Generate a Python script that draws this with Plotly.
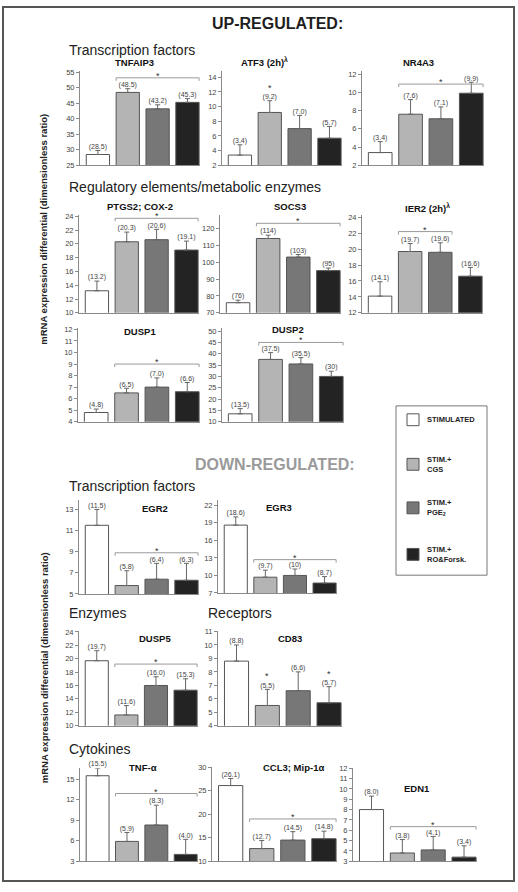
import plotly.graph_objects as go

W, H = 518, 892
FONT = "Liberation Sans, Arial, sans-serif"

CONDITIONS = ["STIMULATED", "STIM.+<br>CGS", "STIM.+<br>PGE<sub>2</sub>", "STIM.+<br>RO&Forsk."]
BAR_COLORS = ["#ffffff", "#b4b4b4", "#777777", "#232323"]
BAR_POS = [0, 1, 2, 3]

# ---- data: mean values, upper error, printed labels ----
TNFAIP3 = [28.5, 48.5, 43.2, 45.3]
TNFAIP3_ERR = [1.3, 1.2, 1.3, 1.2]
TNFAIP3_LBL = ["(28.5)", "(48.5)", "(43.2)", "(45.3)"]

ATF3 = [3.4, 9.2, 7.0, 5.7]
ATF3_ERR = [1.4, 1.6, 1.8, 1.6]
ATF3_LBL = ["(3.4)", "(9.2)", "(7.0)", "(5.7)"]

NR4A3 = [3.4, 7.6, 7.1, 9.9]
NR4A3_ERR = [1.2, 1.6, 1.3, 1.2]
NR4A3_LBL = ["(3.4)", "(7.6)", "(7.1)", "(9.9)"]

PTGS2 = [13.2, 20.3, 20.6, 19.1]
PTGS2_ERR = [1.4, 1.4, 1.5, 1.3]
PTGS2_LBL = ["(13.2)", "(20.3)", "(20.6)", "(19.1)"]

SOCS3 = [76, 114, 103, 95]
SOCS3_ERR = [1.5, 2.0, 1.5, 1.5]
SOCS3_LBL = ["(76)", "(114)", "(103)", "(95)"]

IER2 = [14.1, 19.7, 19.6, 16.6]
IER2_ERR = [1.8, 1.0, 1.2, 1.1]
IER2_LBL = ["(14.1)", "(19.7)", "(19.6)", "(16.6)"]

DUSP1 = [4.8, 6.5, 7.0, 6.6]
DUSP1_ERR = [0.3, 0.4, 0.8, 0.8]
DUSP1_LBL = ["(4.8)", "(6.5)", "(7.0)", "(6.6)"]

DUSP2 = [13.5, 37.5, 35.5, 30]
DUSP2_ERR = [2.3, 3.0, 2.8, 2.3]
DUSP2_LBL = ["(13.5)", "(37.5)", "(35.5)", "(30)"]

EGR2 = [11.5, 5.8, 6.4, 6.3]
EGR2_ERR = [1.5, 1.4, 1.5, 1.6]
EGR2_LBL = ["(11.5)", "(5.8)", "(6.4)", "(6.3)"]

EGR3 = [18.6, 9.7, 10, 8.7]
EGR3_ERR = [1.4, 1.2, 1.1, 1.1]
EGR3_LBL = ["(18.6)", "(9.7)", "(10)", "(8.7)"]

DUSP5 = [19.7, 11.6, 16.0, 15.3]
DUSP5_ERR = [1.5, 1.4, 1.3, 1.7]
DUSP5_LBL = ["(19.7)", "(11.6)", "(16.0)", "(15.3)"]

CD83 = [8.8, 5.5, 6.6, 5.7]
CD83_ERR = [1.2, 1.2, 1.4, 1.2]
CD83_LBL = ["(8.8)", "(5.5)", "(6.6)", "(5.7)"]

TNFA = [15.5, 5.9, 8.3, 4.0]
TNFA_ERR = [1.1, 1.3, 2.9, 2.2]
TNFA_LBL = ["(15.5)", "(5.9)", "(8.3)", "(4.0)"]

CCL3 = [26.1, 12.7, 14.5, 14.8]
CCL3_ERR = [1.5, 1.7, 1.8, 1.6]
CCL3_LBL = ["(26.1)", "(12.7)", "(14.5)", "(14.8)"]

EDN1 = [8.0, 3.8, 4.1, 3.4]
EDN1_ERR = [1.3, 1.3, 1.3, 1.1]
EDN1_LBL = ["(8.0)", "(3.8)", "(4.1)", "(3.4)"]

# ---- panel layout (pixel boxes) ----
panels = [
    dict(t="TNFAIP3", v=TNFAIP3, e=TNFAIP3_ERR, l=TNFAIP3_LBL, box=(80, 200, 68, 163), yr=(25, 55.3), t0=25, dt=5, tp=(134, 59), br=(53.2, 1, 3)),
    dict(t="ATF3 (2h)<sup>λ</sup>", v=ATF3, e=ATF3_ERR, l=ATF3_LBL, box=(222, 342, 68, 163), yr=(2, 14.8), t0=2, dt=2, tp=(264, 59), stars=[1]),
    dict(t="NR4A3", v=NR4A3, e=NR4A3_ERR, l=NR4A3_LBL, box=(362, 484, 68, 163), yr=(2, 12.3), t0=2, dt=2, tp=(418, 59), br=(10.9, 1, 3)),
    dict(t="PTGS2; COX-2", v=PTGS2, e=PTGS2_ERR, l=PTGS2_LBL, box=(79, 199, 213, 312), yr=(10, 24.2), t0=10, dt=2, tp=(140, 205), br=(23.7, 1, 3)),
    dict(t="SOCS3", v=SOCS3, e=SOCS3_ERR, l=SOCS3_LBL, box=(220, 341, 213, 312), yr=(70, 128), t0=70, dt=10, tp=(290, 205), br=(123, 1, 3)),
    dict(t="IER2 (2h)<sup>λ</sup>", v=IER2, e=IER2_ERR, l=IER2_LBL, box=(362, 483, 213, 312), yr=(12, 24.3), t0=12, dt=2, tp=(427, 206), br=(22.2, 1, 2)),
    dict(t="DUSP1", v=DUSP1, e=DUSP1_ERR, l=DUSP1_LBL, box=(78, 200, 327, 422), yr=(4, 12.15), t0=4, dt=1, tp=(140, 331), br=(9.0, 1, 3)),
    dict(t="DUSP2", v=DUSP2, e=DUSP2_ERR, l=DUSP2_LBL, box=(222, 344, 327, 422), yr=(10, 51.5), t0=10, dt=5, tp=(288, 329), br=(45, 1, 3)),
    dict(t="EGR2", v=EGR2, e=EGR2_ERR, l=EGR2_LBL, box=(79, 199, 501, 596), yr=(5, 13.9), t0=5, dt=2, tp=(155, 510), br=(8.9, 1, 3)),
    dict(t="EGR3", v=EGR3, e=EGR3_ERR, l=EGR3_LBL, box=(218, 337, 501, 595), yr=(7, 22.9), t0=7, dt=3, tp=(279, 509), br=(12.7, 1, 3)),
    dict(t="DUSP5", v=DUSP5, e=DUSP5_ERR, l=DUSP5_LBL, box=(79, 198, 633, 729), yr=(10, 24.2), t0=10, dt=2, tp=(155, 641), br=(19.2, 1, 3)),
    dict(t="CD83", v=CD83, e=CD83_ERR, l=CD83_LBL, box=(218, 342, 633, 729), yr=(4, 11.07), t0=4, dt=1, tp=(290, 641), stars=[1, 3]),
    dict(t="TNF-α", v=TNFA, e=TNFA_ERR, l=TNFA_LBL, box=(80, 198, 772, 866), yr=(3, 16.6), t0=3, dt=3, tp=(143, 771), br=(12.9, 1, 3)),
    dict(t="CCL3; Mip-1α", v=CCL3, e=CCL3_ERR, l=CCL3_LBL, box=(212, 337, 771, 866), yr=(10, 30), t0=10, dt=5, tp=(293, 771), br=(19.0, 1, 3)),
    dict(t="EDN1", v=EDN1, e=EDN1_ERR, l=EDN1_LBL, box=(353, 477, 772, 866), yr=(3, 12), t0=3, dt=1, tp=(417, 793), br=(6.35, 1, 3)),
]

BW = 0.78
AXC = "#8a8a8a"

def px(xp):
    return xp / W

def py(yp):
    return 1 - yp / H

fig = go.Figure()
layout = {}
shapes = []
annotations = []

for k, p in enumerate(panels, start=1):
    xa = "x" if k == 1 else f"x{k}"
    ya = "y" if k == 1 else f"y{k}"
    x0, x1, yt, yb = p["box"]
    tops = [v + e for v, e in zip(p["v"], p["e"])]
    fig.add_trace(go.Bar(
        x=BAR_POS, y=p["v"], width=BW, xaxis=xa, yaxis=ya,
        marker=dict(color=BAR_COLORS, line=dict(color="#555555", width=1)),
        error_y=dict(type="data", array=p["e"], arrayminus=[0, 0, 0, 0], symmetric=False,
                     color="#666666", thickness=1, width=2.5),
        showlegend=False, hoverinfo="skip",
    ))
    # value labels above the error bars
    fig.add_trace(go.Scatter(
        x=BAR_POS, y=tops, mode="text", text=p["l"], textposition="top center",
        textfont=dict(size=7, color="#444444", family=FONT), cliponaxis=False,
        xaxis=xa, yaxis=ya, showlegend=False, hoverinfo="skip",
    ))
    layout["xaxis" if k == 1 else f"xaxis{k}"] = dict(
        domain=[px(x0), px(x1)], anchor=ya, range=[-0.6, 3.42],
        showline=True, linecolor=AXC, linewidth=1, showticklabels=False,
        ticks="", showgrid=False, zeroline=False, fixedrange=True)
    layout["yaxis" if k == 1 else f"yaxis{k}"] = dict(
        domain=[py(yb), py(yt)], anchor=xa, range=list(p["yr"]),
        tick0=p["t0"], dtick=p["dt"], showline=True, linecolor=AXC, linewidth=1,
        ticks="outside", ticklen=3, tickcolor=AXC, tickwidth=1,
        tickfont=dict(size=7.5, color="#444444", family=FONT),
        showgrid=False, zeroline=False, fixedrange=True)
    # title
    annotations.append(dict(text=f"<b>{p['t']}</b>", x=px(p["tp"][0]), y=py(p["tp"][1]),
                            xref="paper", yref="paper", showarrow=False,
                            xanchor="center", yanchor="middle",
                            font=dict(size=9.5, color="#111111", family=FONT)))
    # significance bracket
    if "br" in p:
        lvl, i0, i1 = p["br"]
        xs, xe = i0 - BW / 2, i1 + BW / 2
        shapes.append(dict(type="line", xref=xa, yref=ya, x0=xs, x1=xe, y0=lvl, y1=lvl,
                           line=dict(color="#9a9a9a", width=1)))
        for xx in (xs, xe):
            shapes.append(dict(type="line", xref=xa, yref=ya, x0=xx, x1=xx,
                               ysizemode="pixel", yanchor=lvl, y0=0, y1=-3,
                               line=dict(color="#9a9a9a", width=1)))
        annotations.append(dict(text="*", x=(i0 + i1) / 2, y=lvl, xref=xa, yref=ya,
                                showarrow=False, xanchor="center", yanchor="bottom",
                                yshift=-5, font=dict(size=9, color="#333333", family=FONT)))
    for i in p.get("stars", []):
        annotations.append(dict(text="*", x=i, y=tops[i], xref=xa, yref=ya,
                                showarrow=False, xanchor="center", yanchor="bottom",
                                yshift=6, font=dict(size=9, color="#333333", family=FONT)))

# headers and section labels
def txt(s, x, y, size, color="#222222", bold=False, anchor="left", angle=0):
    annotations.append(dict(text=(f"<b>{s}</b>" if bold else s), x=px(x), y=py(y),
                            xref="paper", yref="paper", showarrow=False,
                            xanchor=anchor, yanchor="middle", textangle=angle,
                            font=dict(size=size, color=color, family=FONT)))

txt("UP-REGULATED:", 277, 20, 16, "#1e1e1e", True, "center")
txt("DOWN-REGULATED:", 275, 465, 16, "#9a9a9a", True, "center")
txt("Transcription factors", 67, 46, 14)
txt("Regulatory elements/metabolic enzymes", 67, 185, 14)
txt("Transcription factors", 67, 487, 14)
txt("Enzymes", 67, 615, 14)
txt("Receptors", 206, 615, 14)
txt("Cytokines", 67, 753, 14)
YT = "mRNA expression differential (dimensionless ratio)"
txt(YT, 44, 228, 9.5, "#222222", True, "center", -90)
txt(YT, 44, 671, 9.5, "#222222", True, "center", -90)

# legend (manual)
shapes.append(dict(type="rect", xref="paper", yref="paper", x0=px(396), x1=px(487),
                   y0=py(577), y1=py(406), line=dict(color="#777777", width=1), fillcolor="#ffffff"))
leg_y = [420, 465, 509, 556]
for c, name, yy in zip(BAR_COLORS, CONDITIONS, leg_y):
    shapes.append(dict(type="rect", xref="paper", yref="paper", x0=px(407), x1=px(419),
                       y0=py(yy + 6), y1=py(yy - 6), line=dict(color="#555555", width=1),
                       fillcolor=c))
    annotations.append(dict(text=f"<b>{name}</b>", x=px(425), y=py(yy), xref="paper", yref="paper",
                            showarrow=False, xanchor="left", yanchor="middle", align="left",
                            font=dict(size=7.5, color="#222222", family=FONT)))

# outer frame
shapes.append(dict(type="rect", xref="paper", yref="paper", x0=px(3), x1=px(514),
                   y0=py(886), y1=py(3), line=dict(color="#555555", width=2)))

fig.update_layout(**layout)
fig.update_layout(width=W, height=H, margin=dict(l=0, r=0, t=0, b=0),
                  paper_bgcolor="#ffffff", plot_bgcolor="rgba(0,0,0,0)",
                  shapes=shapes, annotations=annotations, bargap=0.2,
                  font=dict(family=FONT))
fig.write_html("out.html", config={"displayModeBar": False},
               post_script="document.body.style.margin='0';document.body.style.overflow='hidden';")
